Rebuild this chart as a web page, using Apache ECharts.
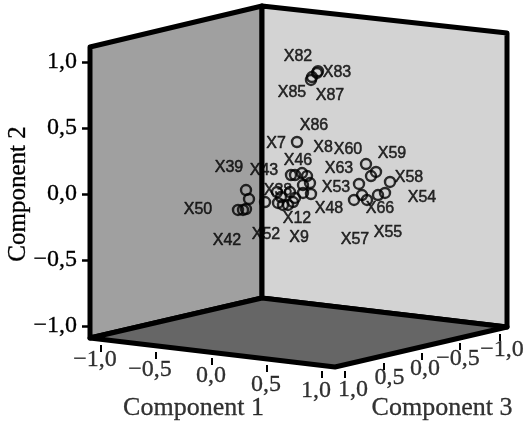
<!DOCTYPE html>
<html>
<head>
<meta charset="utf-8">
<style>html,body{margin:0;padding:0;background:#fff}#c{width:523px;height:424px}</style>
<script src="https://cdn.jsdelivr.net/npm/echarts@6/dist/echarts.min.js"></script>
</head>
<body>
<div id="c"></div>
<script>
// Points: projected horizontal position, and height on the Component 2 scale.
const pointX = [.56,.55,.50,.49,.35,-.16,-.13,-.24,-.19,-.16,.03,.29,.33,.40,.45,.48,.41,.49,.41,.33,.28,.15,.19,.16,.21,.26,.31,1.04,1.14,1.09,1.28,.97,1.23,1.16,1.00,.92,1.05];
const pointY = [.93,.917,.886,.864,.394,.03,-.038,-.121,-.121,-.114,-.061,.144,.144,.159,.136,.083,.068,0,.008,-.03,.015,.015,-.023,-.068,-.083,-.083,-.061,.227,.167,.136,.091,.076,.008,-.008,-.008,-.045,-.045];

const labelNames = ['X82','X83','X85','X87','X86','X7','X8','X60','X59','X46','X63','X58','X39','X43','X53','X54','X38','X50','X66','X48','X12','X42','X52','X9','X57','X55'];
const labelX = [.36,.75,.30,.68,.52,.14,.61,.86,1.30,.36,.77,1.47,-.33,.02,.74,1.60,.16,-.64,1.18,.67,.35,-.35,.04,.37,.93,1.26];
const labelY = [1.038,.917,.765,.742,.515,.379,.348,.333,.303,.25,.189,.121,.197,.174,.045,-.03,.023,-.121,-.114,-.114,-.189,-.356,-.311,-.333,-.348,-.295];

// Box corners in the same projected units
const cornerA = [-1.72,1.114], cornerB = [0,1.424], cornerC = [2.45,1.22];
const cornerD = [-1.72,-1.091], cornerE = [0,-.788], cornerF = [2.45,-1.008], cornerG = [.73,-1.311];

// Floor axes
const floorTickX = [-1.61,-1.06,-.50,.05,.60,.83,1.22,1.60,1.98,2.38];
const floorTickY = [-1.144,-1.197,-1.242,-1.295,-1.341,-1.341,-1.28,-1.205,-1.129,-1.061];
const floorLabels = ['−1,0','−0,5','0,0','0,5','1,0','1,0','0,5','0,0','−0,5','−1,0'];
const floorLabelX = [-1.67,-1.12,-.51,.04,.54,.91,1.275,1.63,1.96,2.40];
const floorLabelY = [-1.258,-1.333,-1.379,-1.447,-1.492,-1.485,-1.394,-1.326,-1.25,-1.182];
const titleNames = ['Component 1','Component 3'];
const titleX = [-.685,1.80];
const titleY = [-1.621,-1.621];

const serif = '"Liberation Serif","Times New Roman",serif';
const sans = '"Liberation Sans",Arial,sans-serif';
const textSeries = (names, xs, ys, font, size, extra) => ({
  type: 'scatter', clip: false, silent: true, symbolSize: 1, z: 6,
  itemStyle: { color: 'transparent' },
  data: names.map((n, i) => ({ name: n, value: [xs[i], ys[i]] })),
  label: Object.assign({ show: true, position: 'inside', formatter: '{b}', color: '#000', fontFamily: font, fontSize: size }, extra || {})
});

const chart = echarts.init(document.getElementById('c'), null, { renderer: 'canvas' });
chart.setOption({
  animation: false,
  backgroundColor: '#fff',
  grid: { left: 90, width: 417, top: 62, height: 264, outerBoundsMode: 'none', containLabel: false },
  xAxis: { type: 'value', min: -1.72, max: 2.45, show: false },
  yAxis: {
    type: 'value', min: -1, max: 1, interval: .5, position: 'left',
    name: 'Component 2', nameLocation: 'middle', nameGap: 59, nameRotate: 90, nameMoveOverlap: false,
    nameTextStyle: { fontFamily: serif, fontSize: 25, color: '#000', textBorderColor: '#000', textBorderWidth: 0.3 },
    axisLine: { show: false, onZero: false },
    axisTick: { show: true, length: 8, lineStyle: { color: '#000', width: 2.5 } },
    splitLine: { show: false },
    axisLabel: { margin: 13, color: '#000', fontFamily: serif, fontSize: 24, textBorderColor: '#000', textBorderWidth: 0.3,
      formatter: v => v.toFixed(1).replace('.', ',').replace('-', '−') }
  },
  series: [
    {
      type: 'custom', clip: false, silent: true, z: 1, coordinateSystem: 'cartesian2d',
      data: [[0, 0]],
      renderItem: (p, api) => {
        const poly = (corners, fill) => ({
          type: 'polygon',
          shape: { points: corners.map(c => api.coord(c)) },
          style: { fill: fill, stroke: '#000', lineWidth: 5, lineJoin: 'round' }
        });
        return { type: 'group', children: [
          poly([cornerA, cornerB, cornerE, cornerD], '#a0a0a0'),
          poly([cornerB, cornerC, cornerF, cornerE], '#d3d3d3'),
          poly([cornerD, cornerE, cornerF, cornerG], '#666666')
        ] };
      }
    },
    {
      type: 'custom', clip: false, silent: true, z: 1, coordinateSystem: 'cartesian2d',
      data: floorTickX.map((x, i) => [x, floorTickY[i]]),
      renderItem: (p, api) => {
        const c = api.coord([api.value(0), api.value(1)]);
        return { type: 'line', shape: { x1: c[0], y1: c[1], x2: c[0], y2: c[1] + 7 },
          style: { stroke: '#000', lineWidth: 2 } };
      }
    },
    {
      type: 'scatter', clip: false, silent: true, z: 4, symbol: 'circle', symbolSize: 10,
      itemStyle: { color: 'transparent', borderColor: '#000', borderWidth: 2.4 },
      data: pointX.map((x, i) => [x, pointY[i]])
    },
    textSeries(labelNames, labelX, labelY, sans, 16, { textBorderColor: '#000', textBorderWidth: 0.5 }),
    textSeries(floorLabels, floorLabelX, floorLabelY, serif, 24, { textBorderColor: '#000', textBorderWidth: 0.3 }),
    textSeries(titleNames, titleX, titleY, serif, 26, { textBorderColor: '#000', textBorderWidth: 0.3 })
  ]
});
</script>
</body>
</html>
